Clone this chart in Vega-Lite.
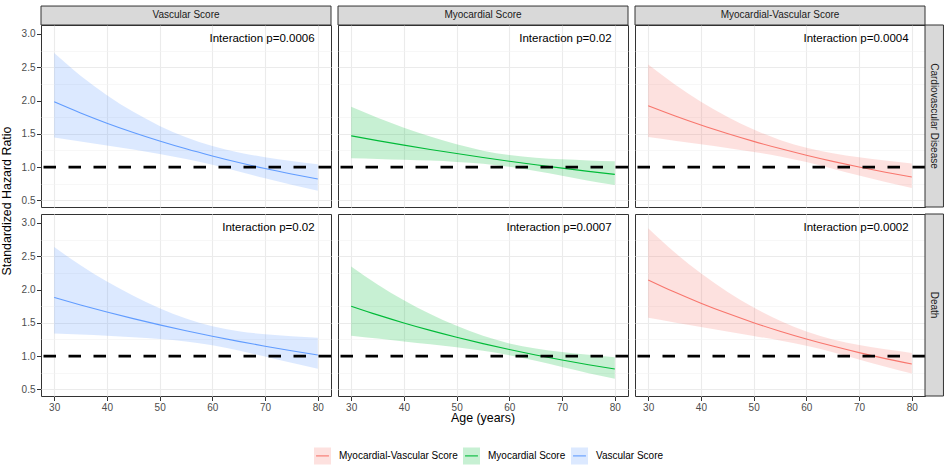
{
  "$schema": "https://vega.github.io/schema/vega-lite/v6.json",
  "padding": {"left": 0, "top": 5, "right": 5, "bottom": 5},
  "background": "white",
  "data": {"values": [
    {"score":"Vascular Score","outcome":"Cardiovascular Disease","age":30,"hr":1.980,"lo":1.445,"hi":2.713,"p":"Interaction p=0.0006"},
    {"score":"Vascular Score","outcome":"Cardiovascular Disease","age":35,"hr":1.813,"lo":1.385,"hi":2.374,"p":"Interaction p=0.0006"},
    {"score":"Vascular Score","outcome":"Cardiovascular Disease","age":40,"hr":1.660,"lo":1.324,"hi":2.081,"p":"Interaction p=0.0006"},
    {"score":"Vascular Score","outcome":"Cardiovascular Disease","age":45,"hr":1.520,"lo":1.263,"hi":1.830,"p":"Interaction p=0.0006"},
    {"score":"Vascular Score","outcome":"Cardiovascular Disease","age":50,"hr":1.392,"lo":1.197,"hi":1.619,"p":"Interaction p=0.0006"},
    {"score":"Vascular Score","outcome":"Cardiovascular Disease","age":55,"hr":1.274,"lo":1.122,"hi":1.447,"p":"Interaction p=0.0006"},
    {"score":"Vascular Score","outcome":"Cardiovascular Disease","age":60,"hr":1.167,"lo":1.035,"hi":1.316,"p":"Interaction p=0.0006"},
    {"score":"Vascular Score","outcome":"Cardiovascular Disease","age":65,"hr":1.068,"lo":0.935,"hi":1.220,"p":"Interaction p=0.0006"},
    {"score":"Vascular Score","outcome":"Cardiovascular Disease","age":70,"hr":0.978,"lo":0.832,"hi":1.149,"p":"Interaction p=0.0006"},
    {"score":"Vascular Score","outcome":"Cardiovascular Disease","age":75,"hr":0.896,"lo":0.735,"hi":1.092,"p":"Interaction p=0.0006"},
    {"score":"Vascular Score","outcome":"Cardiovascular Disease","age":80,"hr":0.820,"lo":0.645,"hi":1.042,"p":"Interaction p=0.0006"},

    {"score":"Myocardial Score","outcome":"Cardiovascular Disease","age":30,"hr":1.470,"lo":1.133,"hi":1.906,"p":"Interaction p=0.02"},
    {"score":"Myocardial Score","outcome":"Cardiovascular Disease","age":35,"hr":1.398,"lo":1.123,"hi":1.741,"p":"Interaction p=0.02"},
    {"score":"Myocardial Score","outcome":"Cardiovascular Disease","age":40,"hr":1.330,"lo":1.111,"hi":1.592,"p":"Interaction p=0.02"},
    {"score":"Myocardial Score","outcome":"Cardiovascular Disease","age":45,"hr":1.265,"lo":1.097,"hi":1.459,"p":"Interaction p=0.02"},
    {"score":"Myocardial Score","outcome":"Cardiovascular Disease","age":50,"hr":1.203,"lo":1.078,"hi":1.342,"p":"Interaction p=0.02"},
    {"score":"Myocardial Score","outcome":"Cardiovascular Disease","age":55,"hr":1.144,"lo":1.050,"hi":1.247,"p":"Interaction p=0.02"},
    {"score":"Myocardial Score","outcome":"Cardiovascular Disease","age":60,"hr":1.088,"lo":1.004,"hi":1.180,"p":"Interaction p=0.02"},
    {"score":"Myocardial Score","outcome":"Cardiovascular Disease","age":65,"hr":1.035,"lo":0.940,"hi":1.140,"p":"Interaction p=0.02"},
    {"score":"Myocardial Score","outcome":"Cardiovascular Disease","age":70,"hr":0.984,"lo":0.868,"hi":1.116,"p":"Interaction p=0.02"},
    {"score":"Myocardial Score","outcome":"Cardiovascular Disease","age":75,"hr":0.936,"lo":0.796,"hi":1.100,"p":"Interaction p=0.02"},
    {"score":"Myocardial Score","outcome":"Cardiovascular Disease","age":80,"hr":0.890,"lo":0.729,"hi":1.087,"p":"Interaction p=0.02"},

    {"score":"Myocardial-Vascular Score","outcome":"Cardiovascular Disease","age":30,"hr":1.920,"lo":1.451,"hi":2.540,"p":"Interaction p=0.0004"},
    {"score":"Myocardial-Vascular Score","outcome":"Cardiovascular Disease","age":35,"hr":1.770,"lo":1.397,"hi":2.243,"p":"Interaction p=0.0004"},
    {"score":"Myocardial-Vascular Score","outcome":"Cardiovascular Disease","age":40,"hr":1.631,"lo":1.342,"hi":1.982,"p":"Interaction p=0.0004"},
    {"score":"Myocardial-Vascular Score","outcome":"Cardiovascular Disease","age":45,"hr":1.504,"lo":1.287,"hi":1.757,"p":"Interaction p=0.0004"},
    {"score":"Myocardial-Vascular Score","outcome":"Cardiovascular Disease","age":50,"hr":1.386,"lo":1.228,"hi":1.564,"p":"Interaction p=0.0004"},
    {"score":"Myocardial-Vascular Score","outcome":"Cardiovascular Disease","age":55,"hr":1.278,"lo":1.160,"hi":1.408,"p":"Interaction p=0.0004"},
    {"score":"Myocardial-Vascular Score","outcome":"Cardiovascular Disease","age":60,"hr":1.178,"lo":1.076,"hi":1.290,"p":"Interaction p=0.0004"},
    {"score":"Myocardial-Vascular Score","outcome":"Cardiovascular Disease","age":65,"hr":1.086,"lo":0.976,"hi":1.208,"p":"Interaction p=0.0004"},
    {"score":"Myocardial-Vascular Score","outcome":"Cardiovascular Disease","age":70,"hr":1.001,"lo":0.873,"hi":1.148,"p":"Interaction p=0.0004"},
    {"score":"Myocardial-Vascular Score","outcome":"Cardiovascular Disease","age":75,"hr":0.922,"lo":0.775,"hi":1.097,"p":"Interaction p=0.0004"},
    {"score":"Myocardial-Vascular Score","outcome":"Cardiovascular Disease","age":80,"hr":0.850,"lo":0.686,"hi":1.054,"p":"Interaction p=0.0004"},

    {"score":"Vascular Score","outcome":"Death","age":30,"hr":1.880,"lo":1.340,"hi":2.639,"p":"Interaction p=0.02"},
    {"score":"Vascular Score","outcome":"Death","age":35,"hr":1.768,"lo":1.323,"hi":2.363,"p":"Interaction p=0.02"},
    {"score":"Vascular Score","outcome":"Death","age":40,"hr":1.662,"lo":1.304,"hi":2.119,"p":"Interaction p=0.02"},
    {"score":"Vascular Score","outcome":"Death","age":45,"hr":1.563,"lo":1.282,"hi":1.905,"p":"Interaction p=0.02"},
    {"score":"Vascular Score","outcome":"Death","age":50,"hr":1.469,"lo":1.255,"hi":1.719,"p":"Interaction p=0.02"},
    {"score":"Vascular Score","outcome":"Death","age":55,"hr":1.381,"lo":1.218,"hi":1.566,"p":"Interaction p=0.02"},
    {"score":"Vascular Score","outcome":"Death","age":60,"hr":1.299,"lo":1.163,"hi":1.450,"p":"Interaction p=0.02"},
    {"score":"Vascular Score","outcome":"Death","age":65,"hr":1.221,"lo":1.085,"hi":1.374,"p":"Interaction p=0.02"},
    {"score":"Vascular Score","outcome":"Death","age":70,"hr":1.148,"lo":0.992,"hi":1.328,"p":"Interaction p=0.02"},
    {"score":"Vascular Score","outcome":"Death","age":75,"hr":1.080,"lo":0.898,"hi":1.299,"p":"Interaction p=0.02"},
    {"score":"Vascular Score","outcome":"Death","age":80,"hr":1.015,"lo":0.808,"hi":1.275,"p":"Interaction p=0.02"},

    {"score":"Myocardial Score","outcome":"Death","age":30,"hr":1.750,"lo":1.306,"hi":2.346,"p":"Interaction p=0.0007"},
    {"score":"Myocardial Score","outcome":"Death","age":35,"hr":1.619,"lo":1.263,"hi":2.076,"p":"Interaction p=0.0007"},
    {"score":"Myocardial Score","outcome":"Death","age":40,"hr":1.498,"lo":1.220,"hi":1.839,"p":"Interaction p=0.0007"},
    {"score":"Myocardial Score","outcome":"Death","age":45,"hr":1.386,"lo":1.177,"hi":1.632,"p":"Interaction p=0.0007"},
    {"score":"Myocardial Score","outcome":"Death","age":50,"hr":1.283,"lo":1.132,"hi":1.454,"p":"Interaction p=0.0007"},
    {"score":"Myocardial Score","outcome":"Death","age":55,"hr":1.187,"lo":1.080,"hi":1.304,"p":"Interaction p=0.0007"},
    {"score":"Myocardial Score","outcome":"Death","age":60,"hr":1.098,"lo":1.013,"hi":1.190,"p":"Interaction p=0.0007"},
    {"score":"Myocardial Score","outcome":"Death","age":65,"hr":1.016,"lo":0.928,"hi":1.113,"p":"Interaction p=0.0007"},
    {"score":"Myocardial Score","outcome":"Death","age":70,"hr":0.940,"lo":0.834,"hi":1.060,"p":"Interaction p=0.0007"},
    {"score":"Myocardial Score","outcome":"Death","age":75,"hr":0.870,"lo":0.743,"hi":1.019,"p":"Interaction p=0.0007"},
    {"score":"Myocardial Score","outcome":"Death","age":80,"hr":0.805,"lo":0.660,"hi":0.982,"p":"Interaction p=0.0007"},

    {"score":"Myocardial-Vascular Score","outcome":"Death","age":30,"hr":2.145,"lo":1.575,"hi":2.922,"p":"Interaction p=0.0002"},
    {"score":"Myocardial-Vascular Score","outcome":"Death","age":35,"hr":1.962,"lo":1.505,"hi":2.559,"p":"Interaction p=0.0002"},
    {"score":"Myocardial-Vascular Score","outcome":"Death","age":40,"hr":1.795,"lo":1.437,"hi":2.243,"p":"Interaction p=0.0002"},
    {"score":"Myocardial-Vascular Score","outcome":"Death","age":45,"hr":1.642,"lo":1.370,"hi":1.968,"p":"Interaction p=0.0002"},
    {"score":"Myocardial-Vascular Score","outcome":"Death","age":50,"hr":1.502,"lo":1.303,"hi":1.731,"p":"Interaction p=0.0002"},
    {"score":"Myocardial-Vascular Score","outcome":"Death","age":55,"hr":1.374,"lo":1.234,"hi":1.530,"p":"Interaction p=0.0002"},
    {"score":"Myocardial-Vascular Score","outcome":"Death","age":60,"hr":1.257,"lo":1.155,"hi":1.368,"p":"Interaction p=0.0002"},
    {"score":"Myocardial-Vascular Score","outcome":"Death","age":65,"hr":1.150,"lo":1.059,"hi":1.249,"p":"Interaction p=0.0002"},
    {"score":"Myocardial-Vascular Score","outcome":"Death","age":70,"hr":1.052,"lo":0.950,"hi":1.165,"p":"Interaction p=0.0002"},
    {"score":"Myocardial-Vascular Score","outcome":"Death","age":75,"hr":0.962,"lo":0.840,"hi":1.101,"p":"Interaction p=0.0002"},
    {"score":"Myocardial-Vascular Score","outcome":"Death","age":80,"hr":0.880,"lo":0.739,"hi":1.047,"p":"Interaction p=0.0002"}
  ]},
  "facet": {
    "row": {"field": "outcome", "type": "nominal", "sort": ["Cardiovascular Disease", "Death"],
            "header": {"title": "Standardized Hazard Ratio", "titleOrient": "left", "labels": false, "titlePadding": -2}},
    "column": {"field": "score", "type": "nominal", "sort": ["Vascular Score", "Myocardial Score", "Myocardial-Vascular Score"],
               "header": {"title": "Age (years)", "titleOrient": "bottom", "labels": false, "titlePadding": -10}}
  },
  "spacing": {"row": 7, "column": 7},
  "bounds": "flush",
  "spec": {
    "width": 290,
    "height": 182,
    "resolve": {"axis": {"y": "independent"}},
    "layer": [
      {
        "mark": {"type": "area", "fillOpacity": 0.22, "interpolate": "monotone"},
        "encoding": {
          "x": {"field": "age", "type": "quantitative", "title": null,
                "scale": {"domain": [27.5, 82.5], "nice": false, "zero": false},
                "axis": {"values": [30,35,40,45,50,55,60,65,70,75,80], "labelOverlap": false,
                         "labelExpr": "datum.value % 10 == 0 ? datum.label : ''",
                         "tickColor": {"condition": {"test": "datum.value % 10 == 0", "value": "#333333"}, "value": "transparent"},
                         "gridWidth": {"condition": {"test": "datum.value % 10 == 0", "value": 1.1}, "value": 0.6},
                         "gridColor": {"condition": {"test": "datum.value % 10 == 0", "value": "#EBEBEB"}, "value": "#F2F2F2"}}},
          "y": {"field": "lo", "type": "quantitative", "title": null,
                "scale": {"domain": [0.40, 3.135], "nice": false, "zero": false},
                "axis": {"orient": "left", "values": [0.5, 1.5, 2.5], "labelOverlap": false, "format": ".1f",
                         "tickColor": "#333333", "gridWidth": 1.1, "gridColor": "#EBEBEB"}},
          "y2": {"field": "hi"},
          "fill": {"field": "score", "type": "nominal",
                   "scale": {"domain": ["Myocardial-Vascular Score", "Myocardial Score", "Vascular Score"], "range": ["#F8766D", "#00BA38", "#619CFF"]},
                   "legend": {"orient": "none", "legendX": 272, "legendY": 421, "direction": "horizontal", "title": null,
                              "symbolType": "M-0.76,0H1V-1H-1V1H1V0Z", "symbolSize": 289, "symbolStrokeWidth": 1.1,
                              "symbolDash": [12.9, 200], "symbolOpacity": 1,
                              "labelFontSize": 10, "labelOffset": 7, "columnPadding": 2, "labelColor": "black", "labelFont": "Liberation Sans",
                              "encode": {"symbols": {"update": {"fillOpacity": {"value": 0.22}, "strokeOpacity": {"value": 1}, "opacity": {"value": 1}}}}}}
        }
      },
      {
        "mark": {"type": "line", "strokeWidth": 1.1, "interpolate": "monotone"},
        "encoding": {
          "x": {"field": "age", "type": "quantitative"},
          "y": {"field": "hr", "type": "quantitative",
                "axis": {"orient": "left", "values": [1, 2, 3], "labelOverlap": false, "format": ".1f", "title": null,
                         "tickColor": "#333333", "gridWidth": 1.1, "gridColor": "#EBEBEB"}},
          "stroke": {"field": "score", "type": "nominal",
                     "scale": {"domain": ["Myocardial-Vascular Score", "Myocardial Score", "Vascular Score"], "range": ["#F8766D", "#00BA38", "#619CFF"]},
                     "legend": {"orient": "none", "legendX": 272, "legendY": 421, "direction": "horizontal", "title": null,
                                "symbolType": "M-0.76,0H1V-1H-1V1H1V0Z", "symbolSize": 289, "symbolStrokeWidth": 1.1,
                                "symbolDash": [12.9, 200], "symbolOpacity": 1,
                                "labelFontSize": 10, "labelOffset": 7, "columnPadding": 2, "labelColor": "black", "labelFont": "Liberation Sans",
                                "encode": {"symbols": {"update": {"fillOpacity": {"value": 0.22}, "strokeOpacity": {"value": 1}, "opacity": {"value": 1}}}}}}
        }
      },
      {
        "transform": [{"filter": "datum.age == 30"}],
        "mark": {"type": "rule", "strokeDash": [12.5, 12.5], "strokeWidth": 2.8, "color": "black"},
        "encoding": {"y": {"datum": 1,
                           "axis": {"orient": "left", "values": [0.75, 1.25, 1.75, 2.25, 2.75], "labels": false, "ticks": false, "domain": false,
                                    "title": null, "grid": true, "gridWidth": 0.6, "gridColor": "#F2F2F2"}}}
      },
      {
        "transform": [{"filter": "datum.age == 80"}],
        "mark": {"type": "text", "align": "right", "baseline": "middle", "fontSize": 11.5, "color": "black", "font": "Liberation Sans"},
        "encoding": {"x": {"datum": 79.4}, "y": {"datum": 2.93, "axis": null}, "text": {"field": "p"}}
      },
      {
        "transform": [{"filter": "datum.age == 30 && datum.outcome == 'Cardiovascular Disease'"}],
        "mark": {"type": "rect", "fill": "#D9D9D9", "stroke": "#333333", "strokeWidth": 1},
        "encoding": {"x": {"datum": 27.5}, "x2": {"datum": 82.5}, "y": {"datum": 3.135, "axis": null}, "y2": {"datum": 3.42}}
      },
      {
        "transform": [{"filter": "datum.age == 30 && datum.outcome == 'Cardiovascular Disease'"}],
        "mark": {"type": "text", "align": "center", "baseline": "middle", "fontSize": 10, "color": "#1A1A1A", "font": "Liberation Sans"},
        "encoding": {"x": {"datum": 55}, "y": {"datum": 3.278, "axis": null}, "text": {"field": "score"}}
      },
      {
        "transform": [{"filter": "datum.age == 30 && datum.score == 'Myocardial-Vascular Score'"}],
        "mark": {"type": "rect", "fill": "#D9D9D9", "stroke": "#333333", "strokeWidth": 1},
        "encoding": {"x": {"datum": 82.5}, "x2": {"datum": 86.0}, "y": {"datum": 0.40, "axis": null}, "y2": {"datum": 3.135}}
      },
      {
        "transform": [{"filter": "datum.age == 30 && datum.score == 'Myocardial-Vascular Score'"}],
        "mark": {"type": "text", "align": "center", "baseline": "middle", "angle": 90, "fontSize": 10, "color": "#1A1A1A", "font": "Liberation Sans"},
        "encoding": {"x": {"datum": 84.25}, "y": {"datum": 1.7675, "axis": null}, "text": {"field": "outcome"}}
      },
      {
        "transform": [{"filter": "datum.age == 30 && datum.score == 'Vascular Score' && datum.outcome == 'Cardiovascular Disease'"}],
        "mark": {"type": "rect", "opacity": 0},
        "encoding": {"x": {"datum": 24.0}, "x2": {"datum": 27.5}, "y": {"datum": 1.0, "axis": null}, "y2": {"datum": 2.0}}
      }
    ]
  },
  "config": {
    "font": "Liberation Sans",
    "view": {"stroke": "#333333", "strokeWidth": 1},
    "axis": {"labelFontSize": 10, "labelColor": "#4D4D4D", "labelFont": "Liberation Sans", "tickSize": 4.5, "tickWidth": 1,
             "domain": false, "labelPadding": 1.5, "labelBound": false, "labelOverlap": false},
    "header": {"titleFontSize": 12.4, "titleFontWeight": "normal", "titleColor": "black", "titleFont": "Liberation Sans"}
  }
}
